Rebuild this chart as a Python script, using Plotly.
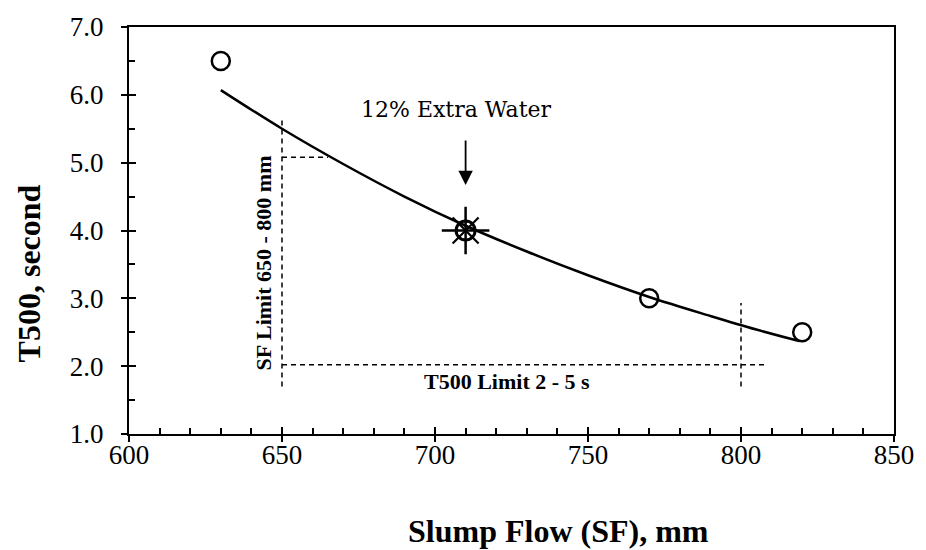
import plotly.graph_objects as go

# Measured data points
sf_mm = [630, 770, 820]
t500_s = [6.5, 3.0, 2.5]
# 12% extra water mix
sf_extra = [710]
t500_extra = [4.0]

# Trend line
trend_sf = [630, 650, 670, 690, 710, 730, 750, 770, 790, 805, 819]
trend_t500 = [6.07, 5.50, 4.98, 4.50, 4.07, 3.69, 3.34, 3.02, 2.74, 2.54, 2.37]

# Limit guide lines (x0, y0, x1, y1)
limit_lines = [
    (650, 1.70, 650, 5.62),
    (650, 5.08, 665, 5.08),
    (650, 2.02, 808, 2.02),
    (800, 1.70, 800, 2.93),
]

x_ticks = [600, 650, 700, 750, 800, 850]
y_ticks = [1.0, 2.0, 3.0, 4.0, 5.0, 6.0, 7.0]

TITLE_FONT = "Liberation Serif"

fig = go.Figure()

fig.add_trace(go.Scatter(
    x=trend_sf, y=trend_t500, mode="lines", line=dict(color="black", width=2.5, shape="spline"),
    showlegend=False, hoverinfo="skip"))

fig.add_trace(go.Scatter(
    x=sf_mm, y=t500_s, mode="markers",
    marker=dict(symbol="circle-open", size=18, color="black", line=dict(width=2.5, color="black")),
    showlegend=False))

# extra water marker: circle + cross + x
fig.add_trace(go.Scatter(
    x=sf_extra, y=t500_extra, mode="markers",
    marker=dict(symbol="cross-thin-open", size=34, color="black", line=dict(width=2.5, color="black")),
    showlegend=False))
fig.add_trace(go.Scatter(
    x=sf_extra, y=t500_extra, mode="markers",
    marker=dict(symbol="x-thin-open", size=26, color="black", line=dict(width=2.2, color="black")),
    showlegend=False))
fig.add_trace(go.Scatter(
    x=sf_extra, y=t500_extra, mode="markers",
    marker=dict(symbol="circle-open", size=19, color="black", line=dict(width=3, color="black")),
    showlegend=False))

# dummy trace for overlay axes (crossing major ticks)
fig.add_trace(go.Scatter(x=[None], y=[None], xaxis="x2", yaxis="y2", showlegend=False, hoverinfo="skip"))

for (x0, y0, x1, y1) in limit_lines:
    fig.add_shape(type="line", x0=x0, y0=y0, x1=x1, y1=y1, xref="x", yref="y",
                  line=dict(color="black", width=1.5, dash="5px,4px"))

# annotations
fig.add_annotation(x=710, y=4.67, ax=710, ay=5.35, xref="x", yref="y", axref="x", ayref="y",
                   text="", showarrow=True, arrowhead=2, arrowsize=1.6, arrowwidth=1.8, arrowcolor="black")
fig.add_annotation(x=706.9, y=5.78, xref="x", yref="y", text="12% Extra Water", showarrow=False,
                   xanchor="center", yanchor="middle",
                   font=dict(family="DejaVu Serif", size=22, color="black"))
fig.add_annotation(x=643.9, y=3.52, xref="x", yref="y", text="<b>SF Limit 650 - 800 mm</b>",
                   textangle=-90, showarrow=False, xanchor="center", yanchor="middle",
                   font=dict(family=TITLE_FONT, size=22, color="black"))
fig.add_annotation(x=695.9, y=1.78, xref="x", yref="y", text="<b>T500 Limit 2 - 5 s</b>",
                   xanchor="left", yanchor="middle", showarrow=False,
                   font=dict(family=TITLE_FONT, size=22, color="black"))

# axis titles
fig.add_annotation(x=-0.1305, y=0.395, xref="paper", yref="paper", text="<b>T500, second</b>",
                   textangle=-90, showarrow=False, xanchor="center", yanchor="middle",
                   font=dict(family=TITLE_FONT, size=32, color="black"))
fig.add_annotation(x=0.561, y=-0.2386, xref="paper", yref="paper", text="<b>Slump Flow (SF), mm</b>",
                   showarrow=False, xanchor="center", yanchor="middle",
                   font=dict(family=TITLE_FONT, size=32, color="black"))

tickfont = dict(family="Liberation Serif", size=27, color="black")

fig.update_layout(
    width=926, height=550,
    margin=dict(l=129, r=23, t=19, b=116),
    paper_bgcolor="white", plot_bgcolor="white",
    xaxis=dict(range=[600, 850], tickvals=x_ticks, ticktext=[str(v) for v in x_ticks],
               showgrid=False, zeroline=False, showline=True, linecolor="black", linewidth=2,
               mirror=True, ticks="inside", ticklen=7, tickwidth=2, tickcolor="black",
               tickfont=tickfont, ticklabelstandoff=-4,
               minor=dict(dtick=10, ticks="inside", ticklen=6, tickwidth=1.5, tickcolor="black", showgrid=False)),
    yaxis=dict(range=[1.0, 7.0], tickvals=y_ticks, ticktext=[f"{v:.1f}" for v in y_ticks],
               showgrid=False, zeroline=False, showline=True, linecolor="black", linewidth=2,
               mirror=True, ticks="inside", ticklen=7, tickwidth=2, tickcolor="black",
               tickfont=tickfont, ticklabelstandoff=18,
               minor=dict(dtick=0.5, ticks="inside", ticklen=6, tickwidth=1.5, tickcolor="black", showgrid=False)),
    xaxis2=dict(range=[600, 850], overlaying="x", anchor="y", side="bottom", tickvals=x_ticks,
                showticklabels=False, showgrid=False, zeroline=False, showline=False,
                ticks="outside", ticklen=7, tickwidth=2, tickcolor="black"),
    yaxis2=dict(range=[1.0, 7.0], overlaying="y", anchor="x", side="left", tickvals=y_ticks,
                showticklabels=False, showgrid=False, zeroline=False, showline=False,
                ticks="outside", ticklen=7, tickwidth=2, tickcolor="black"),
)

fig.write_html("out.html")
